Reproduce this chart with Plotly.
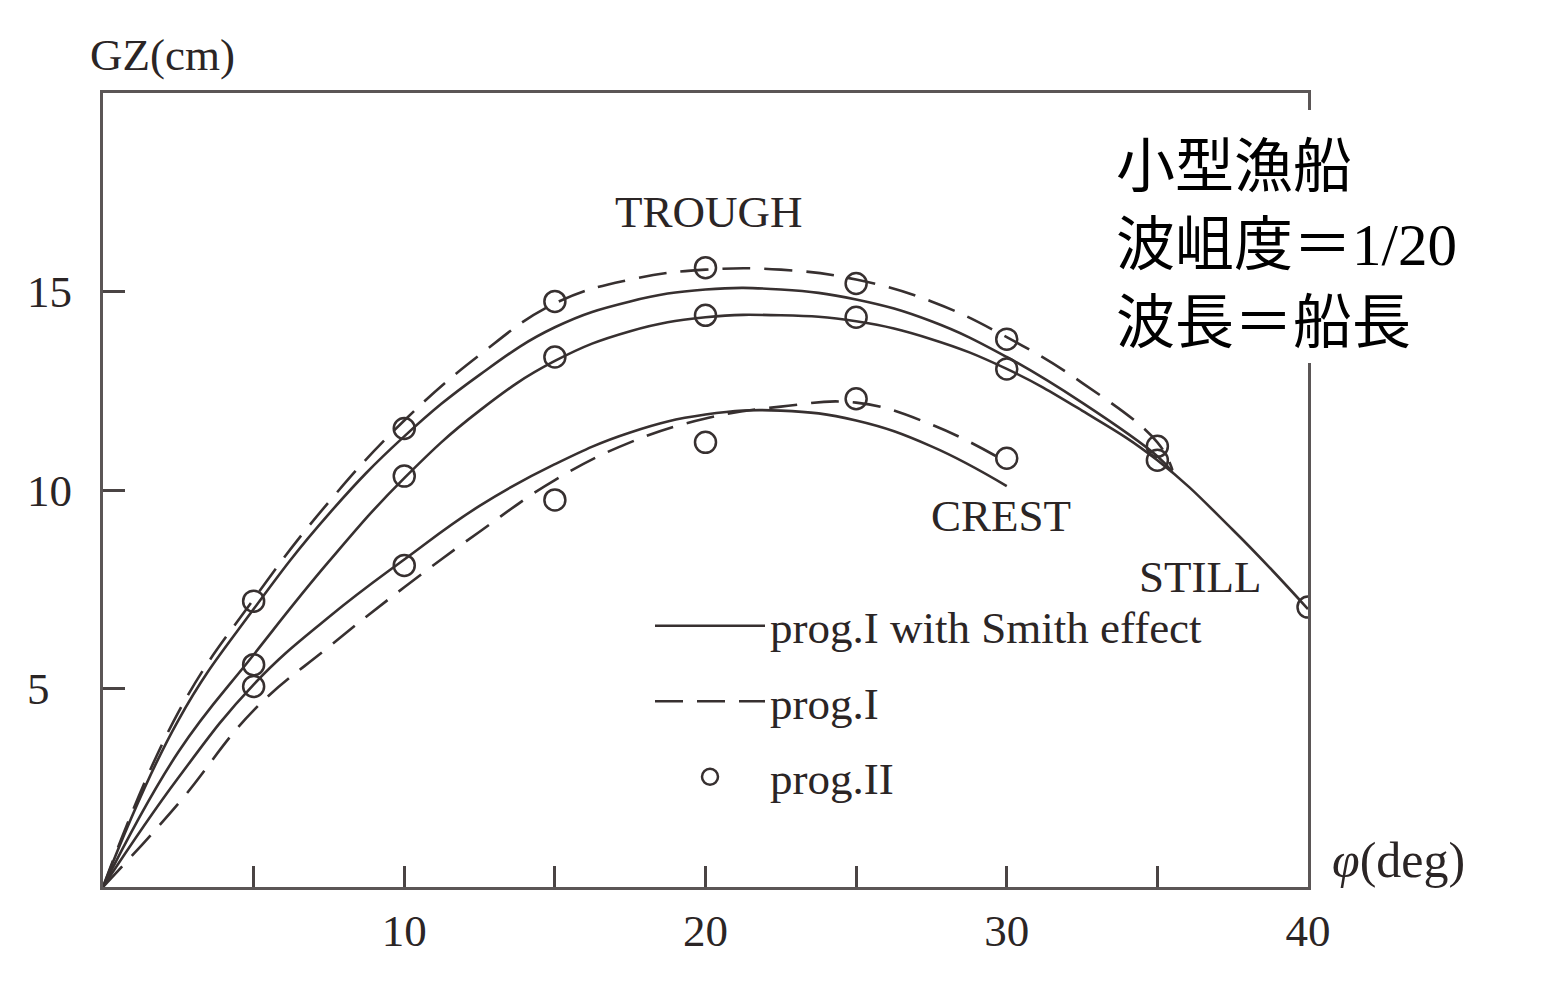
import plotly.graph_objects as go

# ---------------- data ----------------
phi = [0, 2.5, 5, 7.5, 10, 12.5, 15, 17.5, 20, 22.5, 25, 27.5, 30, 32.5, 35, 35.5]
trough_smith = [0, 4.2, 7.0, 9.4, 11.35, 12.9, 14.1, 14.75, 15.05, 15.05, 14.8, 14.25, 13.35, 12.2, 10.85, 10.45]
trough_prog1 = [0, 4.4, 7.25, 9.7, 11.75, 13.4, 14.7, 15.3, 15.55, 15.55, 15.3, 14.75, 13.85, 12.7, 11.2, 10.5]

phi_still = [0, 2.5, 5, 7.5, 10, 12.5, 15, 17.5, 20, 22.5, 25, 27.5, 30, 32.5, 35, 37.5, 40]
still = [0, 3.4, 5.85, 8.2, 10.3, 12.0, 13.25, 14.0, 14.35, 14.4, 14.25, 13.8, 13.05, 12.0, 10.75, 9.0, 7.0]

phi_crest = [0, 2.5, 5, 7.5, 10, 12.5, 15, 17.5, 20, 22.5, 25, 27.5, 30]
crest_smith = [0, 2.75, 5.1, 6.8, 8.25, 9.6, 10.65, 11.45, 11.9, 12.0, 11.75, 11.1, 10.1]
crest_prog1 = [0, 2.1, 4.45, 6.05, 7.55, 8.95, 10.25, 11.2, 11.8, 12.1, 12.2, 11.65, 10.7]

p2_trough_x = [5, 10, 15, 20, 25, 30, 35]
p2_trough_y = [7.2, 11.55, 14.75, 15.6, 15.2, 13.8, 11.1]
p2_still_x = [5, 10, 15, 20, 25, 30, 35, 40]
p2_still_y = [5.6, 10.35, 13.35, 14.4, 14.35, 13.05, 10.75, 7.05]
p2_crest_x = [5, 10, 15, 20, 25, 30]
p2_crest_y = [5.05, 8.1, 9.75, 11.2, 12.3, 10.8]

x_tickvals = [5, 10, 15, 20, 25, 30, 35, 40]
x_ticktext = ["", "10", "", "20", "", "30", "", "40"]
y_tickvals = [5, 10, 15]
y_ticktext = ["5\u00a0\u00a0", "10", "15"]

legend_names = ["prog.I with Smith effect", "prog.I", "prog.II"]
state_labels = ["TROUGH", "CREST", "STILL"]
state_label_x = [20.1, 29.8, 36.4]
state_label_y = [17.0, 9.35, 7.8]
jp_lines = ["小型漁船", "波岨度＝<span style=\"font-family:Liberation Serif\">1/20</span>", "波長＝船長"]

# ---------------- style ----------------
INK = "#373030"
TXT = "#2b2525"
SERIF = "Liberation Serif, Times New Roman, serif"
OFF = 8                      # page body margin of the html page
REF_W, REF_H = 1547, 984
W, H = REF_W - OFF, REF_H - OFF
PLOT_L, PLOT_R, PLOT_T, PLOT_B = 103, 1308, 93, 887   # plot frame in page pixels
L, R, T, B = PLOT_L - OFF, REF_W - PLOT_R, PLOT_T - OFF, REF_H - PLOT_B
PW, PH = PLOT_R - PLOT_L, PLOT_B - PLOT_T


def px2paper_x(px):
    return (px - PLOT_L) / PW


def px2paper_y(py):
    return (PLOT_B - py) / PH


DASH = "28px,14px"

fig = go.Figure()

line_traces = [
    (phi, trough_smith, "solid", 0, True),
    (phi, trough_prog1, DASH, 1, True),
    (phi_still, still, "solid", 0, False),
    (phi_crest, crest_smith, "solid", 0, False),
    (phi_crest, crest_prog1, DASH, 1, False),
]
for xs, ys, dash, li, show in line_traces:
    fig.add_trace(go.Scatter(
        x=xs, y=ys, mode="lines", line=dict(color=INK, width=2.6, dash=dash, shape="spline", smoothing=1.2),
        name=legend_names[li], legendgroup=legend_names[li], showlegend=show,
    ))

for i, (xs, ys) in enumerate([(p2_trough_x, p2_trough_y), (p2_still_x, p2_still_y), (p2_crest_x, p2_crest_y)]):
    fig.add_trace(go.Scatter(
        x=xs, y=ys, mode="markers",
        marker=dict(symbol="circle-open", size=21, color=INK, line=dict(width=2.5, color=INK)),
        name=legend_names[2], legendgroup=legend_names[2], showlegend=(i == 0),
    ))

annotations = []
for t, x, y in zip(state_labels, state_label_x, state_label_y):
    annotations.append(dict(x=x, y=y, xref="x", yref="y", text=t, showarrow=False,
                            font=dict(family=SERIF, size=45, color=TXT),
                            xanchor="center", yanchor="middle"))
annotations.append(dict(x=px2paper_x(88), y=px2paper_y(55), xref="paper", yref="paper", text="GZ(cm)",
                        showarrow=False, font=dict(family=SERIF, size=45, color=TXT),
                        xanchor="left", yanchor="middle"))
annotations.append(dict(x=px2paper_x(1330), y=px2paper_y(860), xref="paper", yref="paper",
                        text="<i>φ</i>(deg)", showarrow=False,
                        font=dict(family=SERIF, size=50, color=TXT),
                        xanchor="left", yanchor="middle"))
for txt, py in zip(jp_lines, [161, 239, 317]):
    annotations.append(dict(x=px2paper_x(1114), y=px2paper_y(py), xref="paper", yref="paper",
                            text=txt, showarrow=False,
                            font=dict(family="Noto Sans CJK JP", size=59, color="#000000"),
                            xanchor="left", yanchor="middle"))

shapes = [
    dict(type="rect", xref="paper", yref="paper", layer="above",
         x0=px2paper_x(1105), x1=px2paper_x(REF_W), y0=px2paper_y(363), y1=px2paper_y(110),
         fillcolor="white", line=dict(width=0)),
]

axis_common = dict(showgrid=False, zeroline=False, showline=True, mirror=True, linewidth=3,
                   linecolor="#5b5656", ticks="inside", tickwidth=3, tickcolor="#4a4444",
                   tickfont=dict(family=SERIF, size=45, color=TXT), tickmode="array")

fig.update_layout(
    width=W, height=H,
    margin=dict(l=L, r=R, t=T, b=B, autoexpand=False),
    paper_bgcolor="white", plot_bgcolor="white",
    xaxis=dict(range=[0, 40], tickvals=x_tickvals, ticktext=x_ticktext, ticklen=21,
               ticklabelstandoff=2, **axis_common),
    yaxis=dict(range=[0, 20], tickvals=y_tickvals, ticktext=y_ticktext, ticklen=22,
               ticklabelstandoff=19, **axis_common),
    legend=dict(x=px2paper_x(650), y=px2paper_y(590), xanchor="left", yanchor="top",
                font=dict(family=SERIF, size=45, color=TXT), bgcolor="rgba(0,0,0,0)",
                itemwidth=110, tracegroupgap=14),
    annotations=annotations, shapes=shapes,
    showlegend=True,
)

fig.write_html("out.html")
